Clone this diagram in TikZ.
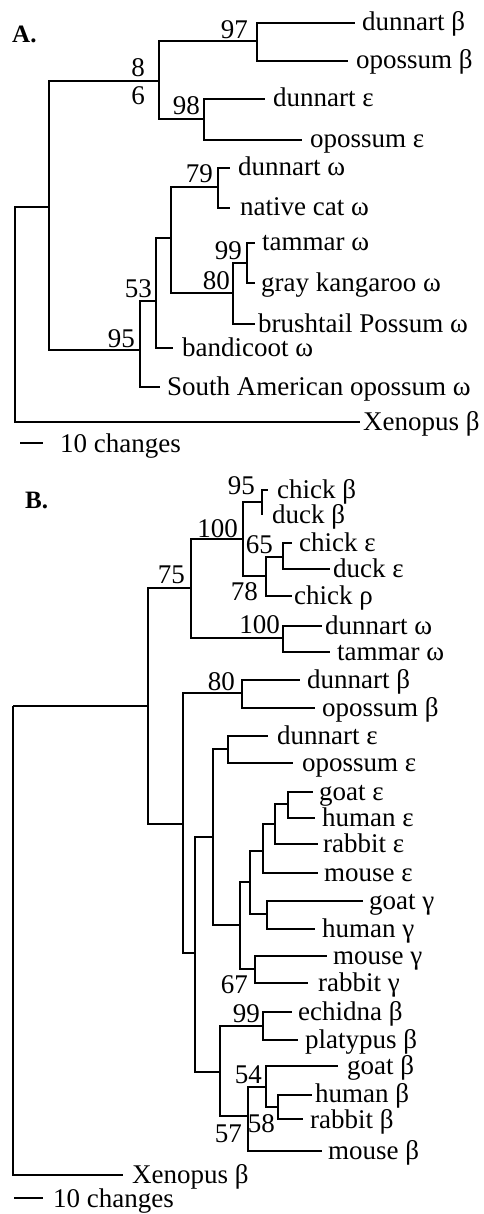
\documentclass[tikz,border=0pt]{standalone}
\usepackage{fontspec}
\setmainfont{Liberation Serif}
\begin{document}
\begin{tikzpicture}[x=1pt,y=-1pt,
  br/.style={line width=2.5pt, line join=miter},
  leaf/.style={anchor=base west, inner sep=0pt, yshift=-8pt, font=\fontsize{27}{30}\selectfont},
  sup/.style={anchor=base east, inner sep=0pt, font=\fontsize{27}{30}\selectfont},
  panel/.style={anchor=base west, inner sep=0pt, font=\fontsize{25}{28}\selectfont\bfseries},
  scaletext/.style={anchor=base west, inner sep=0pt, font=\fontsize{27}{30}\selectfont}]
\useasboundingbox (0,0) rectangle (483,1214);

% ---------------- Panel A ----------------
\node[panel] (pA) at (12,43) {A.};
% internal nodes
\coordinate (aR) at (15,315);
\coordinate (aM) at (49,207);
\coordinate (a86) at (159,81);
\coordinate (a97) at (257,41);
\coordinate (a98) at (204,119);
\coordinate (a95) at (140,350);
\coordinate (a53) at (156,301);
\coordinate (a7980) at (171,238);
\coordinate (a79) at (218,187);
\coordinate (a80) at (233,293);
\coordinate (a99) at (247,263);
% tips
\coordinate (tDbA) at (355,23);
\coordinate (tObA) at (348,61);
\coordinate (tDeA) at (265,99);
\coordinate (tOeA) at (302,140);
\coordinate (tDwA) at (230,168);
\coordinate (tNcA) at (230,208);
\coordinate (tTwA) at (255,243);
\coordinate (tGkA) at (255,283);
\coordinate (tBpA) at (255,324);
\coordinate (tBdA) at (173,348);
\coordinate (tSaA) at (160,387);
\coordinate (tXeA) at (360,422);

\draw[br] (aR) |- (aM);   \draw[br] (aR) |- (tXeA);
\draw[br] (aM) |- (a86);  \draw[br] (aM) |- (a95);
\draw[br] (a86) |- (a97); \draw[br] (a86) |- (a98);
\draw[br] (a97) |- (tDbA); \draw[br] (a97) |- (tObA);
\draw[br] (a98) |- (tDeA); \draw[br] (a98) |- (tOeA);
\draw[br] (a95) |- (a53);  \draw[br] (a95) |- (tSaA);
\draw[br] (a53) |- (a7980); \draw[br] (a53) |- (tBdA);
\draw[br] (a7980) |- (a79); \draw[br] (a7980) |- (a80);
\draw[br] (a79) |- (tDwA); \draw[br] (a79) |- (tNcA);
\draw[br] (a80) |- (a99);  \draw[br] (a80) |- (tBpA);
\draw[br] (a99) |- (tTwA); \draw[br] (a99) |- (tGkA);

\node[leaf] (lDbA) at (362,23) {dunnart β};
\node[leaf] (lObA) at (356,61) {opossum β};
\node[leaf] (lDeA) at (273,99) {dunnart ε};
\node[leaf] (lOeA) at (310,140) {opossum ε};
\node[leaf] (lDwA) at (238,168) {dunnart ω};
\node[leaf] (lNcA) at (240,208) {native cat ω};
\node[leaf] (lTwA) at (262,243) {tammar ω};
\node[leaf] (lGkA) at (261,283) {gray kangaroo ω};
\node[leaf] (lBpA) at (258,324) {brushtail Possum ω};
\node[leaf] (lBdA) at (182,348) {bandicoot ω};
\node[leaf] (lSaA) at (167,387) {South American opossum ω};
\node[leaf] (lXeA) at (363,422) {Xenopus β};

\node[sup] (sA97) at (248,39) {97};
\node[sup] (sA8)  at (145,77) {8};
\node[sup] (sA6)  at (145,105) {6};
\node[sup] (sA98) at (200,115) {98};
\node[sup] (sA79) at (213,183) {79};
\node[sup] (sA99) at (242,260) {99};
\node[sup] (sA80) at (230,290) {80};
\node[sup] (sA53) at (152,298) {53};
\node[sup] (sA95) at (135,347) {95};

\coordinate (barA1) at (20,443);
\coordinate (barA2) at (43,443);
\draw[br] (barA1) -- (barA2);
\node[scaletext] (scA) at (60,452) {10 changes};

% ---------------- Panel B ----------------
\node[panel] (pB) at (25,508) {B.};
% internal nodes
\coordinate (bR) at (13,706);
\coordinate (bT) at (148,706);
\coordinate (b75) at (191,588);
\coordinate (b100a) at (243,539);
\coordinate (b95) at (262,502);
\coordinate (b78) at (266,576);
\coordinate (b65) at (283,557);
\coordinate (b100b) at (283,638);
\coordinate (bM) at (183,824);
\coordinate (b80) at (242,693);
\coordinate (bE) at (195,953);
\coordinate (bEG) at (213,837);
\coordinate (bDO) at (228,749);
\coordinate (bEut) at (240,925);
\coordinate (bEe) at (250,882);
\coordinate (bEps) at (263,851);
\coordinate (bGHR) at (275,824);
\coordinate (bGHe) at (288,804);
\coordinate (bGHg) at (267,914);
\coordinate (b67) at (255,969);
\coordinate (bMono) at (220,1072);
\coordinate (b99) at (263,1026);
\coordinate (b57) at (248,1116);
\coordinate (b54) at (266,1087);
\coordinate (b58) at (278,1107);
% tips
\coordinate (tCbB) at (268,490);
\coordinate (tDuB) at (262,515);
\coordinate (tCeB) at (292,543);
\coordinate (tDeB) at (330,569);
\coordinate (tCrB) at (292,596);
\coordinate (tDwB) at (322,626);
\coordinate (tTwB) at (330,652);
\coordinate (tDbB) at (300,680);
\coordinate (tObB) at (315,708);
\coordinate (tDnB) at (268,736);
\coordinate (tOeB) at (293,763);
\coordinate (tGeB) at (313,792);
\coordinate (tHeB) at (315,818);
\coordinate (tReB) at (318,844);
\coordinate (tMeB) at (318,873);
\coordinate (tGgB) at (363,901);
\coordinate (tHgB) at (315,929);
\coordinate (tMgB) at (327,956);
\coordinate (tRgB) at (308,983);
\coordinate (tEcB) at (292,1012);
\coordinate (tPlB) at (298,1040);
\coordinate (tGbB) at (338,1066);
\coordinate (tHbB) at (312,1095);
\coordinate (tRbB) at (303,1119);
\coordinate (tMbB) at (322,1151);
\coordinate (tXeB) at (123,1175);

\draw[br] (bR) |- (bT);     \draw[br] (bR) |- (tXeB);
\draw[br] (bT) |- (b75);    \draw[br] (bT) |- (bM);
\draw[br] (b75) |- (b100a); \draw[br] (b75) |- (b100b);
\draw[br] (b100a) |- (b95); \draw[br] (b100a) |- (b78);
\draw[br] (b95) |- (tCbB);  \draw[br] (b95) |- (tDuB);
\draw[br] (b78) |- (b65);   \draw[br] (b78) |- (tCrB);
\draw[br] (b65) |- (tCeB);  \draw[br] (b65) |- (tDeB);
\draw[br] (b100b) |- (tDwB); \draw[br] (b100b) |- (tTwB);
\draw[br] (bM) |- (b80);    \draw[br] (bM) |- (bE);
\draw[br] (b80) |- (tDbB);  \draw[br] (b80) |- (tObB);
\draw[br] (bE) |- (bEG);    \draw[br] (bE) |- (bMono);
\draw[br] (bEG) |- (bDO);   \draw[br] (bEG) |- (bEut);
\draw[br] (bDO) |- (tDnB);  \draw[br] (bDO) |- (tOeB);
\draw[br] (bEut) |- (bEe);  \draw[br] (bEut) |- (b67);
\draw[br] (bEe) |- (bEps);  \draw[br] (bEe) |- (bGHg);
\draw[br] (bEps) |- (bGHR); \draw[br] (bEps) |- (tMeB);
\draw[br] (bGHR) |- (bGHe); \draw[br] (bGHR) |- (tReB);
\draw[br] (bGHe) |- (tGeB); \draw[br] (bGHe) |- (tHeB);
\draw[br] (bGHg) |- (tGgB); \draw[br] (bGHg) |- (tHgB);
\draw[br] (b67) |- (tMgB);  \draw[br] (b67) |- (tRgB);
\draw[br] (bMono) |- (b99); \draw[br] (bMono) |- (b57);
\draw[br] (b99) |- (tEcB);  \draw[br] (b99) |- (tPlB);
\draw[br] (b57) |- (b54);   \draw[br] (b57) |- (tMbB);
\draw[br] (b54) |- (tGbB);  \draw[br] (b54) |- (b58);
\draw[br] (b58) |- (tHbB);  \draw[br] (b58) |- (tRbB);

\node[leaf] (lCbB) at (277,490) {chick β};
\node[leaf] (lDuB) at (272,515) {duck β};
\node[leaf] (lCeB) at (299,543) {chick ε};
\node[leaf] (lDeB) at (333,569) {duck ε};
\node[leaf] (lCrB) at (294,596) {chick ρ};
\node[leaf] (lDwB) at (325,626) {dunnart ω};
\node[leaf] (lTwB) at (337,652) {tammar ω};
\node[leaf] (lDbB) at (307,680) {dunnart β};
\node[leaf] (lObB) at (322,708) {opossum β};
\node[leaf] (lDnB) at (277,736) {dunnart ε};
\node[leaf] (lOeB) at (302,763) {opossum ε};
\node[leaf] (lGeB) at (319,792) {goat ε};
\node[leaf] (lHeB) at (322,818) {human ε};
\node[leaf] (lReB) at (323,844) {rabbit ε};
\node[leaf] (lMeB) at (324,873) {mouse ε};
\node[leaf] (lGgB) at (369,901) {goat γ};
\node[leaf] (lHgB) at (322,929) {human γ};
\node[leaf] (lMgB) at (333,956) {mouse γ};
\node[leaf] (lRgB) at (318,983) {rabbit γ};
\node[leaf] (lEcB) at (298,1012) {echidna β};
\node[leaf] (lPlB) at (305,1040) {platypus β};
\node[leaf] (lGbB) at (347,1066) {goat β};
\node[leaf, yshift=1pt] (lHbB) at (315,1095) {human β};
\node[leaf, yshift=-1pt] (lRbB) at (310,1119) {rabbit β};
\node[leaf] (lMbB) at (328,1151) {mouse β};
\node[leaf] (lXeB) at (132,1175) {Xenopus β};

\node[sup] (sB95)  at (255,494) {95};
\node[sup] (sB100a) at (238,537) {100};
\node[sup] (sB65)  at (273,553) {65};
\node[sup] (sB78)  at (258,600) {78};
\node[sup] (sB75)  at (185,583) {75};
\node[sup] (sB100b) at (280,633) {100};
\node[sup] (sB80)  at (235,690) {80};
\node[sup] (sB67)  at (248,993) {67};
\node[sup] (sB99)  at (260,1022) {99};
\node[sup] (sB54)  at (262,1083) {54};
\node[sup] (sB58)  at (275,1132) {58};
\node[sup] (sB57)  at (242,1142) {57};

\coordinate (barB1) at (14,1198);
\coordinate (barB2) at (43,1198);
\draw[br] (barB1) -- (barB2);
\node[scaletext] (scB) at (53,1207) {10 changes};
\end{tikzpicture}
\end{document}
